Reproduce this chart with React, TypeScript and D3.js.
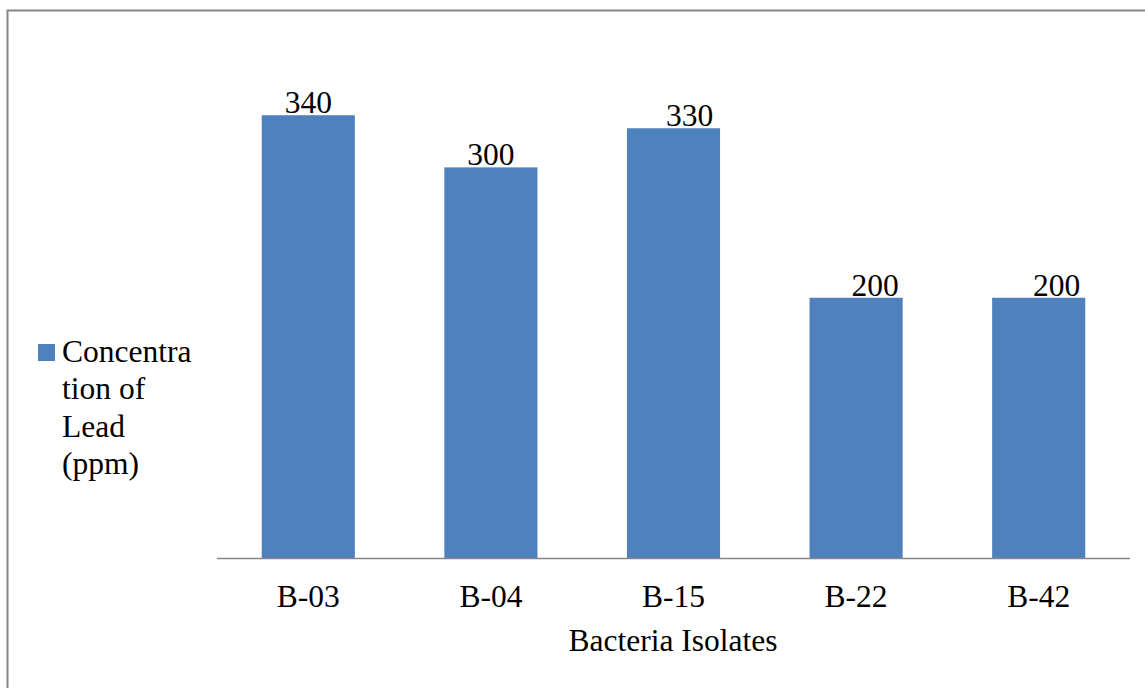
import React from "react";
import * as d3 from "d3";

const categories = ["B-03", "B-04", "B-15", "B-22", "B-42"];
const leadValues = [340, 300, 330, 200, 200];
const seriesName = "Concentration of Lead (ppm)";
const legendLines = ["Concentra", "tion of", "Lead", "(ppm)"];
const xAxisTitle = "Bacteria Isolates";
// horizontal nudges of the value labels as placed in the reference
const labelShift = [0, 0, 16, 19, 18];

const W = 1145;
const H = 688;
const FONT = '"Times New Roman", "Liberation Serif", Times, serif';
const BAR = "#4F81BD";
const GRAY = "#868686";
const txt: React.CSSProperties = { fontFamily: FONT, fontSize: "31.5px" };

export default function App() {
  const x = d3
    .scaleBand<string>()
    .domain(categories)
    .range([217, 1130])
    .paddingInner(0.49)
    .paddingOuter(0.245);
  const y = d3.scaleLinear().domain([0, 400]).range([558.5, 37]);

  return (
    <svg
      width={W}
      height={H}
      style={{ position: "absolute", left: 0, top: 0, background: "#fff", fontFamily: FONT }}
    >
      <rect x={0} y={0} width={W} height={H} fill="#fff" />
      {/* chart border (right/bottom cropped out) */}
      <path d={`M7.5,${H + 5} V10.5 H${W + 5}`} fill="none" stroke={GRAY} strokeWidth={2} />

      {categories.map((c, i) => (
        <rect
          key={c}
          x={x(c)!}
          y={y(leadValues[i])}
          width={x.bandwidth()}
          height={y(0) - y(leadValues[i])}
          fill={BAR}
        />
      ))}

      <line x1={217} x2={1130} y1={y(0)} y2={y(0)} stroke={GRAY} strokeWidth={1.5} />

      {categories.map((c, i) => (
        <text
          key={"v" + c}
          x={x(c)! + x.bandwidth() / 2 + labelShift[i]}
          y={y(leadValues[i]) - 2}
          textAnchor="middle"
          style={txt}
          fill="#000"
        >
          {leadValues[i]}
        </text>
      ))}

      {categories.map((c) => (
        <text
          key={"t" + c}
          x={x(c)! + x.bandwidth() / 2}
          y={607}
          textAnchor="middle"
          style={txt}
          fill="#000"
        >
          {c}
        </text>
      ))}

      <text x={673} y={651} textAnchor="middle" style={txt} fill="#000">
        {xAxisTitle}
      </text>

      <g aria-label={seriesName}>
        <rect x={38} y={344} width={17} height={17} fill={BAR} />
        {legendLines.map((l, i) => (
          <text key={l} x={62} y={362 + i * 37.3} style={txt} fill="#000">
            {l}
          </text>
        ))}
      </g>
    </svg>
  );
}
